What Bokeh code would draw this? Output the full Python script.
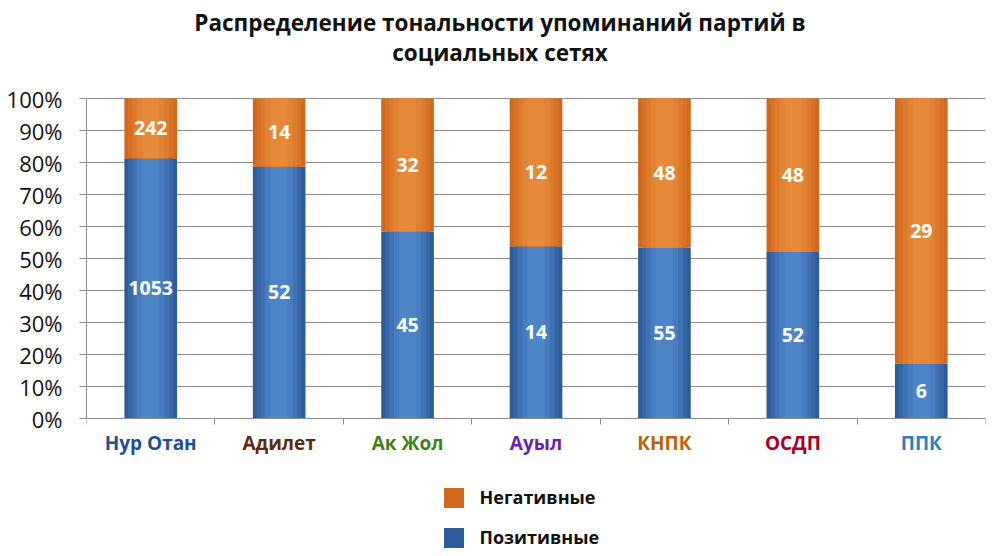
import numpy as np
from bokeh.plotting import figure
from bokeh.models import (ColumnDataSource, LabelSet, Label, Legend, LegendItem,
                          FixedTicker, NumeralTickFormatter, Range1d)
from bokeh.core.properties import value
from bokeh.embed import file_html
from bokeh.resources import INLINE

# ---- data ----
parties = ["Нур Отан", "Адилет", "Ак Жол", "Ауыл", "КНПК", "ОСДП", "ППК"]
party_colors = ["#1F4E96", "#5B2A0F", "#3F7F1A", "#6A1FB0", "#C0600A", "#A8001E", "#2E7FBF"]
positive = [1053, 52, 45, 14, 55, 52, 6]
negative = [242, 14, 32, 12, 48, 48, 29]
title_lines = ["Распределение тональности упоминаний партий в", "социальных сетях"]
series_names = ["Негативные", "Позитивные"]

FONT = "Open Sans"

pos = np.array(positive, dtype=float)
neg = np.array(negative, dtype=float)
tot = pos + neg
pos_share = pos / tot
neg_share = neg / tot
xs = np.arange(len(parties))

src = ColumnDataSource(dict(
    x=xs, party=parties, pcolor=party_colors,
    pos_top=pos_share, one=np.ones(len(parties)),
    pos_mid=pos_share / 2, neg_mid=pos_share + neg_share / 2,
    pos_lbl=[str(v) for v in positive], neg_lbl=[str(v) for v in negative],
    lbl_y=np.full(len(parties), -0.075),
))

WIDTH, HEIGHT = 1000, 556
PX = 320.0          # pixels for 0%..100%
TOP100 = 98         # canvas y of the 100% line
FRAME_LEFT, FRAME_RIGHT = 86, 985
y_end = 1 + TOP100 / PX
y_start = y_end - HEIGHT / PX
cat_px = (FRAME_RIGHT - FRAME_LEFT) / len(parties)

p = figure(width=WIDTH, height=HEIGHT, output_backend="svg", toolbar_location=None,
           x_range=Range1d(-0.5, len(parties) - 0.5), y_range=Range1d(y_start, y_end),
           min_border_left=FRAME_LEFT, min_border_right=WIDTH - FRAME_RIGHT,
           min_border_top=0, min_border_bottom=0)
p.outline_line_color = None
p.background_fill_color = "white"
p.border_fill_color = "white"

# title (two centred lines)
title_x = (499.5 - FRAME_LEFT) / cat_px - 0.5
for line, cy in zip(title_lines, (22, 52)):
    p.add_layout(Label(x=title_x, y=1 + (TOP100 - cy) / PX, text=line,
                       text_align="center", text_baseline="middle",
                       text_font=FONT, text_font_size="22.5px",
                       text_font_style="bold", text_color="#111111"))

W = 0.41
blue_layers = [("#2E5B9A", 1.0), ("#3766A6", 0.86), ("#3F71B3", 0.70),
               ("#477CBE", 0.52), ("#4E85C6", 0.32)]
orange_layers = [("#D2681C", 1.0), ("#D87124", 0.86), ("#DD7A2C", 0.70),
                 ("#E28333", 0.52), ("#E68A3A", 0.32)]

blue_r = None
orange_r = None
for k, (c, f) in enumerate(blue_layers):
    r = p.vbar(x="x", bottom=0, top="pos_top", width=W * f, source=src,
               fill_color=c, line_color=None)
    if k == 0:
        blue_r = r
for k, (c, f) in enumerate(orange_layers):
    r = p.vbar(x="x", bottom="pos_top", top="one", width=W * f, source=src,
               fill_color=c, line_color=None)
    if k == 0:
        orange_r = r

# value labels
for ycol, tcol in (("pos_mid", "pos_lbl"), ("neg_mid", "neg_lbl")):
    p.add_layout(LabelSet(x="x", y=ycol, text=tcol, source=src,
                          text_align="center", text_baseline="middle",
                          text_color="white", text_font=value(FONT),
                          text_font_size="19.5px", text_font_style="bold"))

# category labels, coloured individually
p.add_layout(LabelSet(x="x", y="lbl_y", text="party", source=src,
                      text_align="center", text_baseline="middle",
                      text_color="pcolor", text_font=value(FONT),
                      text_font_size="19px", text_font_style="bold"))

# axes
ticks = [i / 10 for i in range(11)]
p.yaxis.ticker = FixedTicker(ticks=ticks)
p.yaxis.bounds = (0, 1)
p.yaxis.formatter = NumeralTickFormatter(format="0%")
p.yaxis.major_label_text_font = FONT
p.yaxis.major_label_text_font_size = "22px"
p.yaxis.major_label_text_color = "#111111"
p.yaxis.major_label_standoff = 17
p.yaxis.axis_line_color = "#8C8C8C"
p.yaxis.major_tick_line_color = "#8C8C8C"
p.yaxis.major_tick_out = 7
p.yaxis.major_tick_in = 0
p.yaxis.minor_tick_line_color = None

p.xaxis.fixed_location = 0
p.xaxis.ticker = FixedTicker(ticks=[i - 0.5 for i in range(len(parties) + 1)])
p.xaxis.major_label_text_font_size = "0px"
p.xaxis.major_label_text_alpha = 0
p.xaxis.major_label_standoff = 0
p.xaxis.axis_line_color = "#8C8C8C"
p.xaxis.major_tick_line_color = "#8C8C8C"
p.xaxis.major_tick_out = 6
p.xaxis.major_tick_in = 0
p.xaxis.minor_tick_line_color = None

p.xgrid.grid_line_color = None
p.ygrid.grid_line_color = "#8C8C8C"
p.ygrid.ticker = FixedTicker(ticks=ticks)

# legend below the bars
legend = Legend(items=[LegendItem(label=series_names[0], renderers=[orange_r]),
                       LegendItem(label=series_names[1], renderers=[blue_r])],
                location=(354.5, 6.5), orientation="vertical",
                glyph_width=25, glyph_height=25, label_height=20,
                label_standoff=14, spacing=15, padding=0, margin=0,
                label_text_font=FONT, label_text_font_size="18px",
                label_text_font_style="bold", label_text_color="#111111",
                border_line_color=None, background_fill_alpha=0)
p.add_layout(legend)

open("out.html", "w").write(file_html(p, INLINE))
